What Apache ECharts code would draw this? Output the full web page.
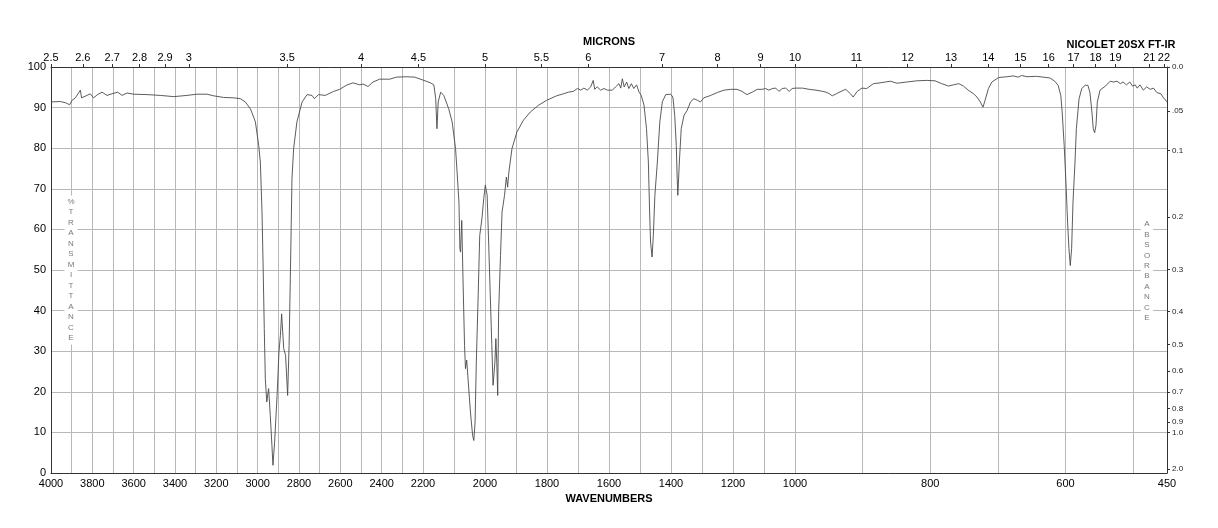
<!DOCTYPE html>
<html>
<head>
<meta charset="utf-8">
<script src="https://cdn.jsdelivr.net/npm/echarts@6/dist/echarts.min.js"></script>
<style>html,body{margin:0;padding:0;background:#fff}#c{width:1218px;height:528px}</style>
</head>
<body>
<div id="c"></div>
<script>
// ---- data (wavenumber cm-1, %transmittance) ----
const wavenumbers = [
4000,3955,3930,3910,3898,3882,3858,3852,3826,3810,3794,3775,3753,3729,3705,3677,3656,3632,3600,3535,
3471,3406,3342,3294,3245,3213,3165,3116,3084,3060,3035,3011,2995,2987,2979,2974,2968,2963,2956,2947,
2939,2931,2926,2918,2906,2897,2890,2884,2874,2865,2855,2848,2842,2834,2826,2810,2785,2761,2737,2726,
2705,2673,2632,2603,2571,2539,2506,2490,2466,2442,2410,2361,2329,2281,2240,2197,2176,2165,2159,2155,
2151,2143,2133,2117,2106,2095,2090,2084,2081,2079,2075,2071,2066,2063,2059,2054,2047,2040,2036,2032,
2028,2022,2017,2010,2004,1999,1993,1988,1983,1978,1974,1968,1965,1962,1959,1956,1950,1945,1937,1931,
1927,1923,1913,1897,1876,1854,1827,1801,1769,1747,1731,1715,1702,1691,1681,1670,1659,1651,1646,1638,
1627,1616,1605,1589,1579,1568,1562,1557,1551,1543,1536,1528,1520,1511,1503,1496,1487,1479,1473,1469,
1466,1461,1457,1452,1444,1436,1428,1417,1401,1394,1388,1383,1380,1378,1373,1367,1358,1348,1337,1326,
1315,1305,1294,1272,1251,1229,1208,1187,1171,1155,1138,1122,1106,1095,1084,1073,1062,1052,1041,1030,
1019,1009,999,989,979,969,959,954,949,945,939,932,925,918,914,908,901,894,884,874,
859,849,835,820,805,793,783,773,766,758,751,744,736,731,726,722,719,714,709,699,
687,677,670,665,657,643,633,623,616,611,607,605,602,599,597,595,593,591,589,586,
584,580,576,571,567,564,561,559,557,555,553,549,541,534,529,524,519,515,510,505,
501,497,494,490,485,480,475,470,465,459,456,450
];
const transmittance = [
91.4,91.5,91.2,90.7,91.8,92.4,94.3,92.4,93.0,93.4,92.4,93.2,93.8,93.0,93.4,93.8,93.0,93.6,93.3,93.2,
93.0,92.7,93.0,93.3,93.3,92.9,92.5,92.4,92.2,91.4,89.7,86.5,80.7,76.6,64.3,52.0,35.6,23.2,17.5,20.8,
14.2,6.8,1.9,7.6,19.1,29.8,33.9,39.2,30.6,29.0,19.1,31.4,47.9,72.5,79.9,86.5,91.4,93.2,93.0,92.2,
93.2,93.0,94.0,94.5,95.5,96.1,95.6,95.8,95.2,96.3,97.0,97.0,97.5,97.6,97.5,96.7,96.1,95.6,92.2,84.8,
91.4,93.8,93.0,89.7,86.5,79.9,74.1,66.7,55.3,54.4,62.2,47.9,31.4,25.7,27.8,22.4,15.0,9.3,8.0,12.6,
27.3,43.8,58.5,62.6,67.6,70.9,68.4,56.1,43.8,31.4,21.6,27.3,33.1,27.3,19.1,39.7,53.6,64.3,68.4,72.9,
70.4,74.1,79.9,84.0,86.9,88.9,90.6,91.8,92.9,93.4,93.8,94.0,94.7,94.3,94.8,94.3,95.1,96.7,94.5,95.1,
94.3,94.7,94.3,94.3,95.1,95.9,94.8,97.1,95.1,96.3,94.7,95.9,94.7,95.6,93.8,93.0,90.6,84.8,76.6,64.3,
56.9,53.2,58.5,68.4,76.6,86.5,91.4,93.2,93.3,92.6,88.1,80.7,72.5,68.4,76.6,84.8,88.1,89.3,91.4,92.2,
91.8,91.4,92.4,93.0,93.7,94.3,94.5,94.5,94.0,93.2,93.8,94.5,94.5,94.7,94.3,94.7,94.8,94.0,94.7,94.8,
94.0,94.7,94.8,94.8,94.5,94.3,94.0,93.8,93.4,92.9,93.4,94.0,94.5,93.4,92.6,94.0,94.8,94.7,95.9,96.1,
96.5,96.0,96.3,96.6,96.7,96.6,95.9,95.3,95.6,95.9,95.3,94.3,93.4,92.6,91.4,90.1,91.8,94.7,96.3,97.4,
97.6,97.8,97.5,97.9,97.6,97.7,97.5,97.3,96.5,95.5,93.0,88.9,80.7,70.0,61.8,55.3,51.1,55.3,66.7,76.6,
84.8,92.2,94.7,95.5,95.5,93.8,88.9,84.8,83.8,85.6,91.4,94.3,95.3,96.5,96.3,96.5,95.9,96.3,95.6,96.3,
95.3,95.6,94.8,95.6,94.3,95.1,94.5,94.8,93.7,93.4,92.6,91.4
];
// ---- tick labels ----
const wavenumberLabels = [4000,3800,3600,3400,3200,3000,2800,2600,2400,2200,2000,1800,1600,1400,1200,1000,800,600,450];
const micronLabels = [2.5,2.6,2.7,2.8,2.9,3,3.5,4,4.5,5,5.5,6,7,8,9,10,11,12,13,14,15,16,17,18,19,21,22];
const absorbanceValues = [0,0.05,0.1,0.2,0.3,0.4,0.5,0.6,0.7,0.8,0.9,1.0,2.0];
const absorbanceLabels = ['0.0','.05','0.1','0.2','0.3','0.4','0.5','0.6','0.7','0.8','0.9','1.0','2.0'];
const transLabels = [0,10,20,30,40,50,60,70,80,90,100];

// piecewise-linear wavenumber scale (three equal panels: 4000-2200, 2200-1000, 1000-450)
function toX(w){
  if (w >= 2200) return (4000 - w) / 1800;
  if (w >= 1000) return 1 + (2200 - w) / 1200;
  return 2 + (1000 - w) / 550;
}
const gridWn = [];
for (let w = 3900; w >= 500; w -= 100) gridWn.push(w);

function nearestLabel(v, vals, labs){
  let best = 0, bd = Infinity;
  vals.forEach((x,i)=>{ const d = Math.abs(x - v); if (d < bd){ bd = d; best = i; } });
  return labs[best];
}
const bottomVals = wavenumberLabels.map(toX);
const topVals = micronLabels.map(m => toX(10000 / m));
const rightVals = absorbanceValues.map(a => 100 * Math.pow(10, -a));

const FONT = 'Liberation Sans, Arial, Helvetica, sans-serif';
const chart = echarts.init(document.getElementById('c'), null, {renderer:'canvas'});
chart.setOption({
  animation: false,
  backgroundColor: '#fff',
  grid: { left: 51, right: 51, top: 67, bottom: 55, containLabel: false },
  xAxis: [
    {
      type: 'value', position: 'bottom', min: 0, max: 3,
      name: 'WAVENUMBERS', nameLocation: 'middle', nameGap: 18,
      nameTextStyle: { fontFamily: FONT, fontSize: 11, fontWeight: 'bold', color: '#000' },
      axisLine: { show: true, onZero: false, lineStyle: { color: '#333', width: 1 } },
      axisTick: { show: false, customValues: gridWn.map(toX) },
      splitLine: { show: true, lineStyle: { color: '#b8b8b8', width: 1 } },
      axisLabel: { customValues: bottomVals, margin: 5, fontFamily: FONT, fontSize: 11, color: '#000',
        formatter: v => String(nearestLabel(v, bottomVals, wavenumberLabels)) }
    },
    {
      type: 'value', position: 'top', min: 0, max: 3,
      name: 'MICRONS', nameLocation: 'middle', nameGap: 14,
      nameTextStyle: { fontFamily: FONT, fontSize: 11, fontWeight: 'bold', color: '#000' },
      axisLine: { show: true, onZero: false, lineStyle: { color: '#333', width: 1 } },
      axisTick: { show: true, length: 3, customValues: topVals, lineStyle: { color: '#333' } },
      splitLine: { show: false },
      axisLabel: { customValues: topVals, margin: 4, fontFamily: FONT, fontSize: 11, color: '#000',
        formatter: v => String(nearestLabel(v, topVals, micronLabels)) }
    }
  ],
  yAxis: [
    {
      type: 'value', position: 'left', min: 0, max: 100, interval: 10,
      axisLine: { show: true, onZero: false, lineStyle: { color: '#333', width: 1 } },
      axisTick: { show: false },
      splitLine: { show: true, lineStyle: { color: '#b8b8b8', width: 1 } },
      axisLabel: { margin: 5, fontFamily: FONT, fontSize: 11, color: '#000',
        formatter: v => String(nearestLabel(v, transLabels, transLabels)) }
    },
    {
      type: 'value', position: 'right', min: 0, max: 100,
      axisLine: { show: true, onZero: false, lineStyle: { color: '#333', width: 1 } },
      axisTick: { show: true, length: 3, customValues: rightVals, lineStyle: { color: '#333' } },
      splitLine: { show: false },
      axisLabel: { customValues: rightVals, margin: 5, fontFamily: FONT, fontSize: 8, color: '#222',
        formatter: v => nearestLabel(v, rightVals, absorbanceLabels) }
    }
  ],
  series: [{
    type: 'line', xAxisIndex: 0, yAxisIndex: 0,
    data: wavenumbers.map((w, i) => [toX(w), transmittance[i]]),
    showSymbol: false, symbol: 'none', smooth: false,
    lineStyle: { color: '#4a4a4a', width: 0.9 },
    z: 5
  }],
  graphic: [
    { type: 'text', x: 1121, y: 45, z: 100,
      style: { text: 'NICOLET 20SX FT-IR', font: 'bold 11px ' + FONT, fill: '#000', textAlign: 'center', textVerticalAlign: 'middle' } },
    { type: 'text', x: 71, y: 270, z: 100,
      style: { text: '%TRANSMITTANCE'.split('').join('\n'), font: '8px ' + FONT, fill: '#7a7a7a',
        lineHeight: 10.5, textAlign: 'center', textVerticalAlign: 'middle', backgroundColor: '#fff', padding: [1, 3] } },
    { type: 'text', x: 1147, y: 271, z: 100,
      style: { text: 'ABSORBANCE'.split('').join('\n'), font: '8px ' + FONT, fill: '#7a7a7a',
        lineHeight: 10.4, textAlign: 'center', textVerticalAlign: 'middle', backgroundColor: '#fff', padding: [1, 3] } }
  ]
});
</script>
</body>
</html>
